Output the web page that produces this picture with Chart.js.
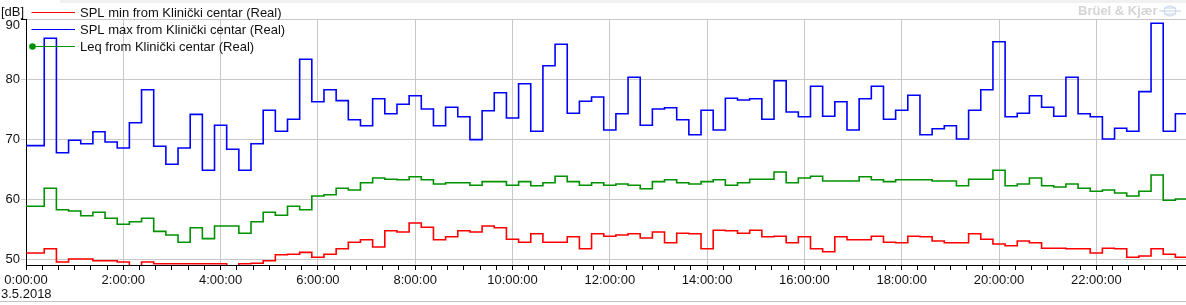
<!DOCTYPE html>
<html>
<head>
<meta charset="utf-8">
<script src="https://cdn.jsdelivr.net/npm/chart.js@4.4.0/dist/chart.umd.min.js"></script>
<style>
  html, body { margin: 0; padding: 0; background: #fff; }
  #wrap { width: 1186px; height: 305px; }
</style>
</head>
<body>
<div id="wrap"><canvas id="myChart" width="1186" height="305"></canvas></div>
<script>
// 15 minute intervals, first one is a half interval (0:00:00 - 0:07:30)
const firstEnd = 7.5;
const intervalMinutes = 15;

const splMin = [
  51.0, 51.7, 49.5, 50.0, 50.0, 49.7, 49.7, 49.5, 48.7, 49.5,
  49.2, 49.2, 49.2, 49.2, 49.2, 49.2, 48.7, 49.2, 49.3, 49.7,
  50.7, 50.8, 51.1, 50.3, 50.8, 51.7, 52.8, 53.2, 52.0, 54.7,
  54.5, 56.0, 55.3, 53.2, 53.7, 54.7, 54.5, 55.5, 55.2, 53.3,
  52.8, 54.2, 52.8, 52.8, 53.7, 51.7, 54.2, 53.8, 54.0, 54.2,
  53.5, 54.5, 52.7, 54.3, 54.2, 51.7, 54.8, 54.7, 54.3, 54.8,
  53.7, 53.8, 52.7, 53.7, 51.7, 51.2, 53.7, 53.2, 53.2, 53.8,
  52.8, 52.7, 53.8, 53.7, 53.0, 52.7, 52.7, 54.2, 53.3, 52.5,
  52.2, 53.0, 52.7, 51.8, 51.8, 51.7, 51.7, 51.0, 51.8, 51.7,
  50.3, 50.5, 51.7, 50.8, 50.3, 51.0
];

const splMax = [
  68.9, 86.8, 67.7, 69.8, 69.2, 71.2, 69.5, 68.5, 72.7, 78.2,
  68.8, 65.8, 68.5, 74.1, 64.8, 72.3, 68.3, 64.8, 69.2, 74.8,
  71.3, 73.3, 83.3, 76.2, 78.2, 76.4, 73.2, 72.2, 76.7, 74.2,
  75.8, 77.2, 75.0, 72.2, 75.3, 73.7, 69.9, 74.7, 77.7, 73.5,
  79.2, 71.3, 82.2, 85.8, 74.3, 76.3, 77.0, 71.5, 74.2, 80.3,
  72.3, 75.0, 75.2, 73.2, 70.7, 74.8, 71.5, 76.8, 76.5, 76.7,
  73.3, 79.7, 74.5, 73.7, 78.8, 73.8, 76.2, 71.5, 76.7, 78.8,
  73.3, 74.8, 77.3, 70.7, 71.7, 72.2, 70.0, 74.8, 78.2, 86.2,
  73.7, 74.3, 77.2, 75.3, 73.8, 80.3, 74.2, 73.7, 70.0, 71.8,
  71.3, 77.9, 89.3, 71.3, 74.2, 73.3
];

const leq = [
  58.8, 61.8, 58.2, 58.0, 57.2, 57.8, 56.8, 55.8, 56.2, 56.8,
  54.6, 54.0, 52.8, 55.2, 53.4, 55.5, 55.5, 54.3, 56.2, 57.8,
  57.3, 58.8, 58.2, 60.5, 60.7, 61.8, 61.5, 62.7, 63.5, 63.3,
  63.2, 63.7, 63.2, 62.5, 62.7, 62.7, 62.3, 62.9, 62.9, 62.3,
  62.9, 62.2, 62.7, 63.8, 62.9, 62.3, 62.7, 62.3, 62.5, 62.3,
  61.7, 62.9, 63.2, 62.7, 62.5, 62.9, 63.2, 62.3, 62.7, 63.3,
  63.3, 64.5, 62.7, 63.5, 63.8, 63.0, 63.0, 63.0, 63.7, 63.2,
  62.9, 63.2, 63.2, 63.2, 63.0, 63.0, 62.2, 63.3, 63.3, 64.8,
  62.2, 62.5, 63.5, 62.2, 62.0, 62.5, 61.8, 61.3, 61.5, 61.0,
  60.5, 61.3, 64.0, 59.8, 60.0, 60.1
];

const seriesLabels = [
  "SPL min from Klinički centar (Real)",
  "SPL max from Klinički centar (Real)",
  "Leq from Klinički centar (Real)"
];
const seriesColors = ["#ff0000", "#0000ff", "#009100"];
const yTicks = [50, 60, 70, 80, 90];
const dateLabel = "3.5.2018";
const unitLabel = "[dB]";

const FONT = "'Liberation Sans', Arial, sans-serif";

// interval end times in minutes, plus the opening point at 0:00:00
const ends = splMin.map((v, i) => firstEnd + i * intervalMinutes);

const toPoints = (vals) => {
  const pts = [{ x: 0, y: vals[0] }];
  vals.forEach((v, i) => pts.push({ x: ends[i], y: v }));
  return pts;
};

const extras = {
  id: "extras",
  afterDraw(chart) {
    const ctx = chart.ctx;
    const area = chart.chartArea;
    const ys = chart.scales.y;
    ctx.save();

    // thin strip at the very top and separator at the bottom
    ctx.fillStyle = "#f1f1f1";
    ctx.fillRect(60, 0, 1126, 3);
    ctx.fillStyle = "#c4c4c4";
    ctx.fillRect(0, 301, 1186, 1);

    // black bracket tick at 90
    ctx.strokeStyle = "#000";
    ctx.lineWidth = 1;
    ctx.beginPath();
    ctx.moveTo(21, Math.round(ys.getPixelForValue(90)) + 0.5);
    ctx.lineTo(area.left, Math.round(ys.getPixelForValue(90)) + 0.5);
    ctx.stroke();

    ctx.font = "13px " + FONT;
    ctx.fillStyle = "#111";
    ctx.textBaseline = "middle";
    ctx.textAlign = "right";
    ctx.fillText("90", 20, ys.getPixelForValue(90) + 6);

    ctx.textAlign = "left";
    ctx.fillText(unitLabel, 1, 12);
    ctx.textBaseline = "alphabetic";
    ctx.fillText(dateLabel, 1, 298);

    // legend
    const rows = [12, 29, 46];
    rows.forEach((y, i) => {
      ctx.strokeStyle = seriesColors[i];
      ctx.lineWidth = 1.2;
      ctx.beginPath();
      ctx.moveTo(31.5, y + 0.5);
      ctx.lineTo(75, y + 0.5);
      ctx.stroke();
      ctx.fillStyle = "#111";
      ctx.textBaseline = "middle";
      ctx.fillText(seriesLabels[i], 80, y + 1.5);
    });
    ctx.fillStyle = seriesColors[2];
    ctx.beginPath();
    ctx.arc(32.5, 46.5, 3.3, 0, Math.PI * 2);
    ctx.fill();

    // faint logo
    ctx.font = "bold 13px " + FONT;
    ctx.fillStyle = "#d4d4d4";
    ctx.textBaseline = "middle";
    ctx.fillText("Brüel & Kjær", 1078, 11);
    ctx.strokeStyle = "#c2d0e6";
    ctx.lineWidth = 1;
    ctx.beginPath();
    ctx.ellipse(1170, 11, 6, 5, 0, 0, Math.PI * 2);
    ctx.moveTo(1159, 11);
    ctx.lineTo(1181, 11);
    ctx.moveTo(1164, 8);
    ctx.lineTo(1176, 8);
    ctx.moveTo(1164, 14);
    ctx.lineTo(1176, 14);
    ctx.stroke();

    ctx.restore();
  }
};

const ds = (vals, i) => ({
  label: seriesLabels[i],
  data: toPoints(vals),
  borderColor: seriesColors[i],
  borderWidth: 1.6,
  stepped: "before",
  pointRadius: 0,
  fill: false
});

new Chart(document.querySelector("#myChart"), {
  type: "line",
  data: {
    datasets: [ds(splMin, 0), ds(splMax, 1), ds(leq, 2)]
  },
  options: {
    responsive: false,
    animation: false,
    devicePixelRatio: 1,
    layout: { padding: { top: 19, right: 0, bottom: 0, left: 0 } },
    plugins: {
      legend: { display: false },
      tooltip: { enabled: false }
    },
    scales: {
      x: {
        type: "linear",
        min: 0,
        max: 1430.6,
        afterFit: (scale) => { scale.height = 40; },
        border: { color: "#000", width: 1 },
        grid: {
          color: (c) => (c.tick && c.tick.value % 120 === 0 ? "#c8c8c8" : "rgba(0,0,0,0)"),
          tickColor: "#000",
          tickLength: 5
        },
        ticks: {
          stepSize: 20,
          autoSkip: false,
          includeBounds: false,
          maxRotation: 0,
          padding: 3,
          color: "#111",
          font: { family: FONT, size: 13 },
          callback: (v) => (v % 120 === 0 ? (v / 60) + ":00:00" : "")
        }
      },
      y: {
        min: 49,
        max: 90,
        afterFit: (scale) => { scale.width = 26; },
        border: { color: "#000", width: 1 },
        grid: { color: "#c8c8c8", tickColor: "#c8c8c8", tickLength: 5 },
        ticks: {
          stepSize: 10,
          includeBounds: false,
          padding: 1,
          color: "#111",
          font: { family: FONT, size: 13 },
          callback: (v) => (yTicks.includes(v) && v !== 90 ? String(v) : "")
        }
      }
    }
  },
  plugins: [extras]
});
</script>
</body>
</html>
